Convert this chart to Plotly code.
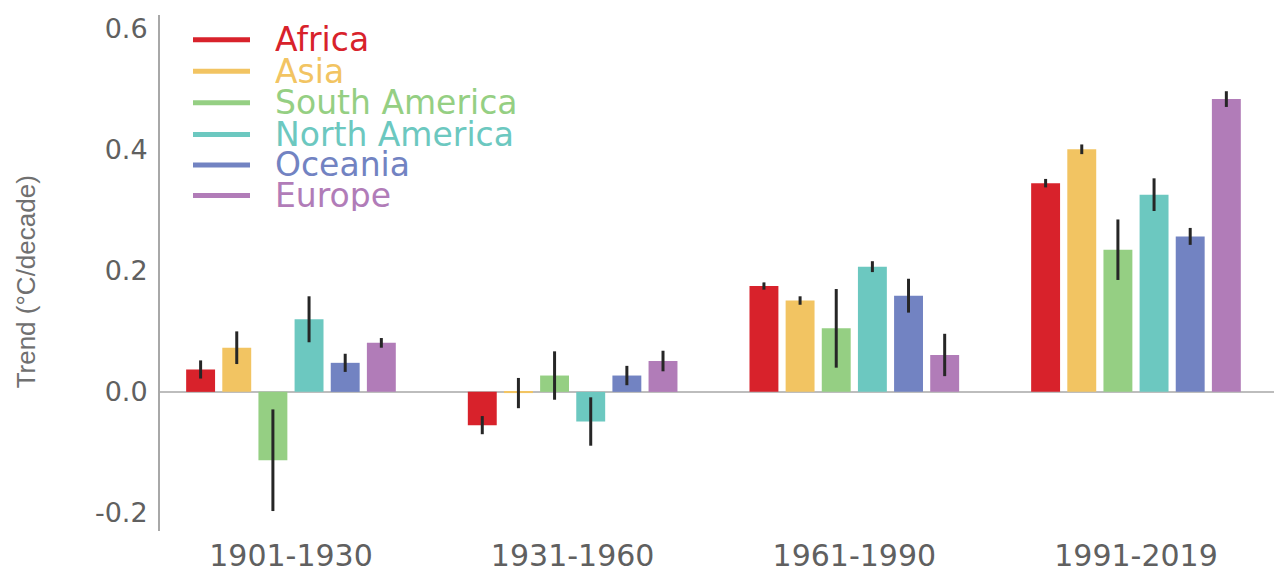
import plotly.graph_objects as go

# Warming trend per region and period (°C/decade) with uncertainty
periods = ["1901-1930", "1931-1960", "1961-1990", "1991-2019"]
regions = ["Africa", "Asia", "South America", "North America", "Oceania", "Europe"]
colors = ["#D8222B", "#F2C462", "#95CF83", "#6CC8C0", "#7283C2", "#B17CB8"]

africa = [0.037, -0.055, 0.175, 0.345]
asia = [0.073, -0.002, 0.151, 0.401]
south_america = [-0.113, 0.027, 0.105, 0.235]
north_america = [0.120, -0.049, 0.207, 0.326]
oceania = [0.048, 0.027, 0.159, 0.257]
europe = [0.081, 0.051, 0.061, 0.484]

africa_err = [0.015, 0.015, 0.006, 0.007]
asia_err = [0.027, 0.025, 0.007, 0.008]
south_america_err = [0.084, 0.040, 0.065, 0.050]
north_america_err = [0.038, 0.040, 0.009, 0.027]
oceania_err = [0.015, 0.016, 0.028, 0.014]
europe_err = [0.008, 0.017, 0.035, 0.013]

y_ticks = [-0.2, 0.0, 0.2, 0.4, 0.6]
y_tick_labels = ["-0.2", "0.0", "0.2", "0.4", "0.6"]

values = [africa, asia, south_america, north_america, oceania, europe]
errors = [africa_err, asia_err, south_america_err, north_america_err, oceania_err, europe_err]

W, H = 1274, 573
ML, MR, MT, MB = 160, 0, 15, 35
PW, PH = W - ML - MR, H - MT - MB


def px_x(px):
    return (px - ML) / PW


def px_y(py):
    return (H - MB - py) / PH


fig = go.Figure()
for name, col, v, e in zip(regions, colors, values, errors):
    fig.add_trace(go.Bar(
        x=periods, y=v, name=name,
        marker=dict(color=col, line=dict(width=0)),
        error_y=dict(type="data", array=e, visible=True,
                     color="#262626", thickness=3, width=0),
        showlegend=False,
    ))

# Legend drawn as coloured dashes with coloured labels, rows packed tightly
legend_rows = [40, 72, 104, 136, 167, 198]
annotations = []
shapes = []
for name, col, row in zip(regions, colors, legend_rows):
    annotations.append(dict(
        xref="paper", yref="paper", x=px_x(274), y=px_y(row),
        xanchor="left", yanchor="middle", valign="middle",
        height=31, borderpad=0,
        text=name, showarrow=False,
        font=dict(family="DejaVu Sans", size=33, color=col),
    ))
    shapes.append(dict(
        type="line", xref="paper", yref="paper",
        x0=px_x(193), x1=px_x(250), y0=px_y(row), y1=px_y(row),
        line=dict(color=col, width=5),
    ))

annotations.append(dict(
    xref="paper", yref="paper", x=px_x(26), y=px_y(286),
    xanchor="center", yanchor="middle", textangle=-90,
    text="Trend (°C/decade)", showarrow=False,
    font=dict(family="Liberation Sans", size=26, color="#707070"),
))

fig.update_layout(
    width=W, height=H,
    margin=dict(l=ML, r=MR, t=MT, b=MB),
    paper_bgcolor="white", plot_bgcolor="white",
    barmode="group", bargap=0.23, bargroupgap=0.2,
    annotations=annotations, shapes=shapes,
    showlegend=False,
)
fig.update_xaxes(
    range=[-0.465, 3.49], showgrid=False, showline=False, ticks="",
    tickfont=dict(family="DejaVu Sans", size=30, color="#606060"),
    ticklabelstandoff=4,
)
fig.update_yaxes(
    range=[-0.23, 0.623], tickvals=y_ticks, ticktext=y_tick_labels,
    showgrid=False, showline=True, linecolor="#A8A8A8", linewidth=2,
    zeroline=True, zerolinecolor="#BDBDBD", zerolinewidth=2,
    ticks="", ticklabelstandoff=5,
    tickfont=dict(family="DejaVu Sans", size=27, color="#606060"),
)

fig.write_html("out.html")
